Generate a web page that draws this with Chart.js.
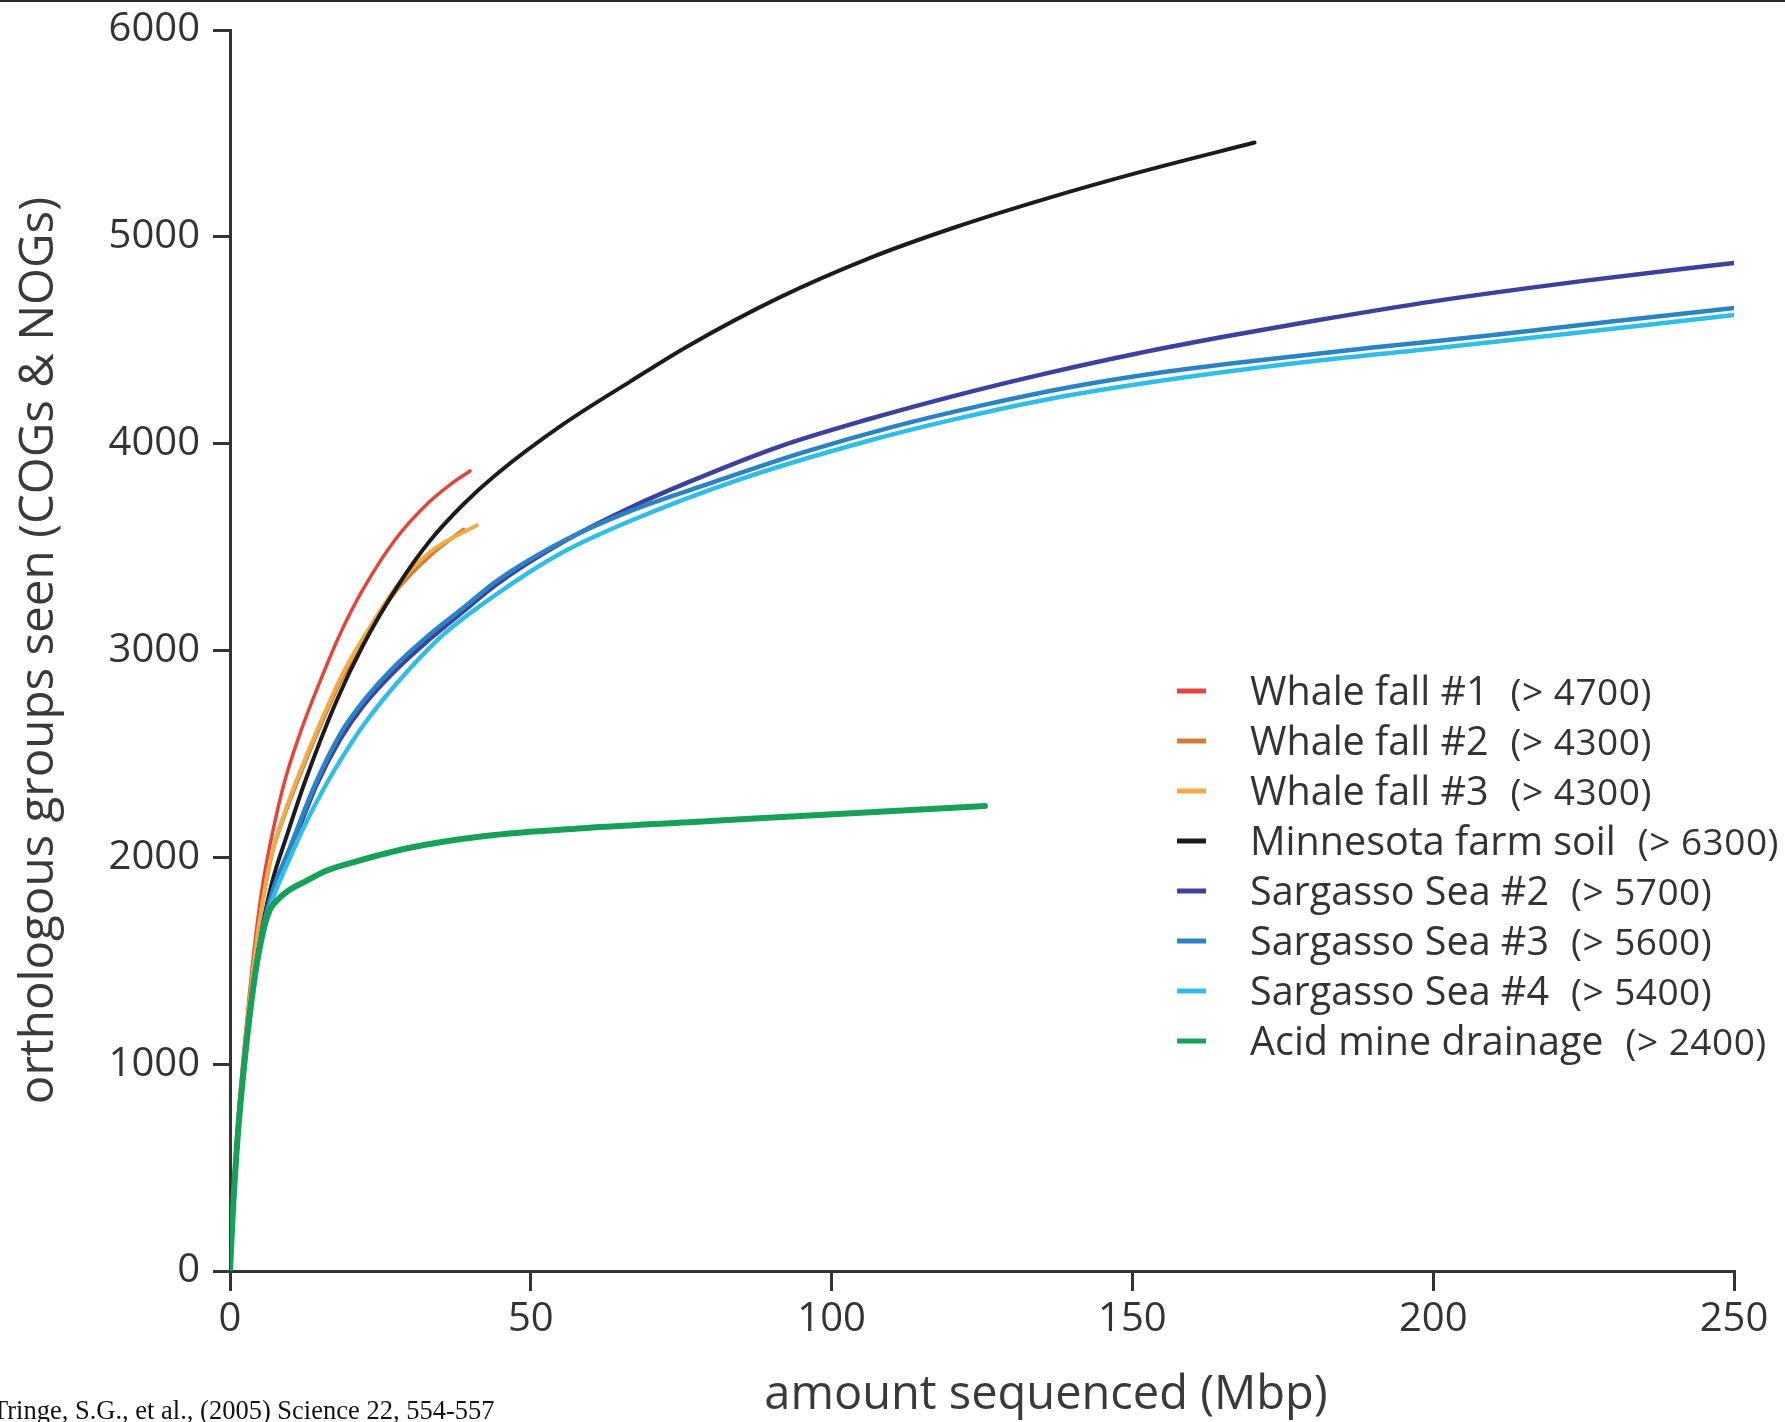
<!DOCTYPE html>
<html>
<head>
<meta charset="utf-8">
<script src="https://cdn.jsdelivr.net/npm/chart.js@4/dist/chart.umd.min.js"></script>
<style>
  html, body { margin: 0; padding: 0; background: #fff; overflow: hidden; }
  #wrap { position: relative; width: 1785px; height: 1422px; }
</style>
</head>
<body>
<div id="wrap"><canvas id="c" width="1785" height="1422"></canvas></div>
<script>
// Rarefaction-style curves: orthologous groups seen vs. amount sequenced (Mbp)
const seriesNames = [
  "Whale fall #1", "Whale fall #2", "Whale fall #3", "Minnesota farm soil",
  "Sargasso Sea #2", "Sargasso Sea #3", "Sargasso Sea #4", "Acid mine drainage"
];
const seriesEstimates = [
  "(> 4700)", "(> 4300)", "(> 4300)", "(> 6300)",
  "(> 5700)", "(> 5600)", "(> 5400)", "(> 2400)"
];
const seriesColors = [
  "#e2453c", "#d27c3a", "#f0aa48", "#1c1c1c",
  "#3b419c", "#2b83c6", "#31bde8", "#17a058"
];
const seriesWidths = [3.5, 4, 4, 4, 4.5, 4.5, 4.5, 6];

const whale1X = [0, 0.5, 1.2, 2.2, 3.2, 4.2, 5.5, 7, 9.1, 11.6, 15, 18.3, 22.2, 27.7, 33.2, 36.5, 39.9];
const whale1Y = [0, 330, 680, 1030, 1330, 1600, 1880, 2110, 2369, 2596, 2853, 3080, 3300, 3545, 3720, 3800, 3868];

const whale2X = [0, 0.5, 1.2, 2.2, 3.2, 4.2, 5.5, 7, 9, 11.1, 15, 18.8, 23.3, 27.7, 33.2, 38.8];
const whale2Y = [0, 320, 660, 1000, 1290, 1540, 1800, 2020, 2200, 2360, 2635, 2876, 3099, 3292, 3457, 3585];

const whale3X = [0, 0.5, 1.2, 2.2, 3.2, 4.2, 5.5, 7, 9, 11.1, 15, 18.8, 23.3, 27.7, 33.2, 41];
const whale3Y = [0, 320, 660, 1000, 1290, 1540, 1800, 2025, 2210, 2375, 2650, 2892, 3115, 3308, 3475, 3605];

const soilX = [0, 0.5, 1.2, 2.2, 3.2, 4.2, 5.5, 7, 9.5, 12.5, 17.7, 22.2, 27.7, 33.2, 38.8, 44.3, 55.4, 66.5, 76.3, 91.2, 106.1, 120.9, 135.7, 150.6, 170.3];
const soilY = [0, 280, 600, 950, 1230, 1450, 1680, 1880, 2110, 2369, 2756, 3030, 3304, 3529, 3707, 3852, 4094, 4300, 4475, 4705, 4895, 5050, 5185, 5308, 5456];

const sea2X = [0, 0.5, 1.2, 2.2, 3.2, 4.2, 5.5, 7, 10, 14.4, 18.3, 22.2, 27.7, 33.2, 38.8, 44.3, 55.4, 66.5, 76.3, 91.2, 106.1, 120.9, 135.7, 150.6, 165.4, 180, 200, 225, 250];
const sea2Y = [0, 300, 630, 960, 1230, 1450, 1660, 1820, 2030, 2350, 2570, 2735, 2910, 3055, 3190, 3320, 3525, 3690, 3815, 3985, 4118, 4235, 4340, 4435, 4518, 4593, 4688, 4787, 4874];

const sea3X = [0, 0.5, 1.2, 2.2, 3.2, 4.2, 5.5, 7, 10, 14.4, 18.3, 22.2, 27.7, 33.2, 38.8, 44.3, 55.4, 66.5, 80, 95, 110, 125, 140, 155, 170, 190, 210, 230, 250];
const sea3Y = [0, 300, 630, 960, 1230, 1450, 1665, 1830, 2050, 2369, 2595, 2756, 2933, 3078, 3207, 3336, 3529, 3674, 3810, 3955, 4080, 4185, 4275, 4345, 4400, 4465, 4525, 4592, 4656];

const sea4X = [0, 0.5, 1.2, 2.2, 3.2, 4.2, 5.5, 7, 10, 12.5, 16.3, 20, 22.2, 27.7, 35, 44.3, 55, 66.5, 85, 106, 120, 136, 155, 178, 200, 225, 250];
const sea4Y = [0, 290, 610, 940, 1200, 1420, 1640, 1790, 2000, 2160, 2369, 2545, 2640, 2840, 3065, 3272, 3470, 3626, 3830, 4013, 4115, 4215, 4305, 4392, 4460, 4540, 4622];

const mineX = [0, 0.5, 1.2, 2.2, 3.2, 4.2, 5.5, 6.6, 7.6, 9.5, 12.7, 16, 21.2, 29.7, 42.4, 59.3, 76.3, 93.3, 110.2, 125.5];
const mineY = [0, 300, 620, 950, 1220, 1440, 1640, 1745, 1785, 1835, 1886, 1935, 1982, 2045, 2103, 2142, 2170, 2198, 2224, 2248];

const xTicks = [0, 50, 100, 150, 200, 250];
const yTicks = [0, 1000, 2000, 3000, 4000, 5000, 6000];

const seriesX = [whale1X, whale2X, whale3X, soilX, sea2X, sea3X, sea4X, mineX];
const seriesY = [whale1Y, whale2Y, whale3Y, soilY, sea2Y, sea3Y, sea4Y, mineY];

const INK = "#333333";

const datasets = seriesNames.map((name, i) => ({
  label: name,
  data: seriesX[i].map((x, k) => ({ x: x, y: seriesY[i][k] })),
  borderColor: seriesColors[i],
  backgroundColor: seriesColors[i],
  borderWidth: seriesWidths[i],
  pointRadius: 0,
  fill: false,
  cubicInterpolationMode: "monotone",
  borderCapStyle: "round",
  order: seriesNames.length - 1 - i
}));

// Legend drawn inside the plot, with the estimate in a slightly smaller face
const legendPlugin = {
  id: "insideLegend",
  afterDraw(chart) {
    const ctx = chart.ctx;
    ctx.save();
    const x0 = 1177, x1 = 1206, tx = 1250, y0 = 691, step = 50;
    seriesNames.forEach((name, i) => {
      const y = y0 + step * i;
      ctx.strokeStyle = seriesColors[i];
      ctx.lineWidth = 5;
      ctx.lineCap = "butt";
      ctx.beginPath();
      ctx.moveTo(x0, y);
      ctx.lineTo(x1, y);
      ctx.stroke();
      ctx.fillStyle = INK;
      ctx.textBaseline = "alphabetic";
      ctx.textAlign = "left";
      ctx.letterSpacing = "0px";
      ctx.font = '39.5px "Open Sans"';
      ctx.fillText(name, tx, y + 14);
      const w = ctx.measureText(name).width;
      ctx.font = '37px "Open Sans"';
      ctx.letterSpacing = "0.5px";
      ctx.fillText(seriesEstimates[i], tx + w + 22, y + 14);
    });
    ctx.restore();
  }
};

// Page furniture: top rule, x-axis title and source line
const furniturePlugin = {
  id: "furniture",
  afterDraw(chart) {
    const ctx = chart.ctx;
    ctx.save();
    ctx.fillStyle = "#2a2a2a";
    ctx.fillRect(0, 0, 1785, 2);
    ctx.fillStyle = "#3a3a3a";
    ctx.font = '47px "Open Sans"';
    ctx.textAlign = "center";
    ctx.textBaseline = "alphabetic";
    ctx.fillText("amount sequenced (Mbp)", 1046, 1409);
    ctx.fillStyle = "#111";
    ctx.font = '26.5px "Liberation Serif"';
    ctx.textAlign = "left";
    ctx.fillText("Tringe, S.G., et al., (2005) Science 22, 554-557", -8, 1419);
    ctx.restore();
  }
};

function build() {
  Chart.defaults.font.family = '"Open Sans"';
  new Chart(document.getElementById("c"), {
    type: "line",
    data: { datasets: datasets },
    plugins: [legendPlugin, furniturePlugin],
    options: {
      responsive: false,
      animation: false,
      devicePixelRatio: 1,
      layout: { padding: { top: 30, right: 51, left: 0, bottom: 0 } },
      plugins: { legend: { display: false }, tooltip: { enabled: false } },
      scales: {
        x: {
          type: "linear",
          min: 0, max: 250,
          afterBuildTicks: (s) => { s.ticks = xTicks.map(v => ({ value: v })); },
          afterFit: (s) => { s.height = 151; s.paddingLeft = 0; s.paddingRight = 0; },
          ticks: { color: INK, font: { size: 40 }, padding: 5, maxRotation: 0, callback: (v) => String(v) },
          grid: { drawOnChartArea: false, drawTicks: true, tickLength: 20, color: INK, lineWidth: 3, tickColor: INK, tickWidth: 3 },
          border: { display: true, color: INK, width: 3 }
        },
        y: {
          type: "linear",
          min: 0, max: 6000,
          afterBuildTicks: (s) => { s.ticks = yTicks.map(v => ({ value: v })); },
          afterFit: (s) => { s.width = 230; s.paddingTop = 0; s.paddingBottom = 0; },
          ticks: { color: INK, font: { size: 40 }, padding: 13, callback: (v) => String(v) },
          grid: { drawOnChartArea: false, drawTicks: true, tickLength: 17, color: INK, lineWidth: 3, tickColor: INK, tickWidth: 3 },
          border: { display: true, color: INK, width: 3 },
          title: {
            display: true,
            text: "orthologous groups seen (COGs & NOGs)",
            color: "#3a3a3a",
            font: { size: 47.5 },
            padding: { top: 11, bottom: 0 }
          }
        }
      }
    }
  });
}

Promise.all([
  document.fonts.load('40px "Open Sans"'),
  document.fonts.load('27px "Liberation Serif"')
]).then(build, build);
</script>
</body>
</html>
